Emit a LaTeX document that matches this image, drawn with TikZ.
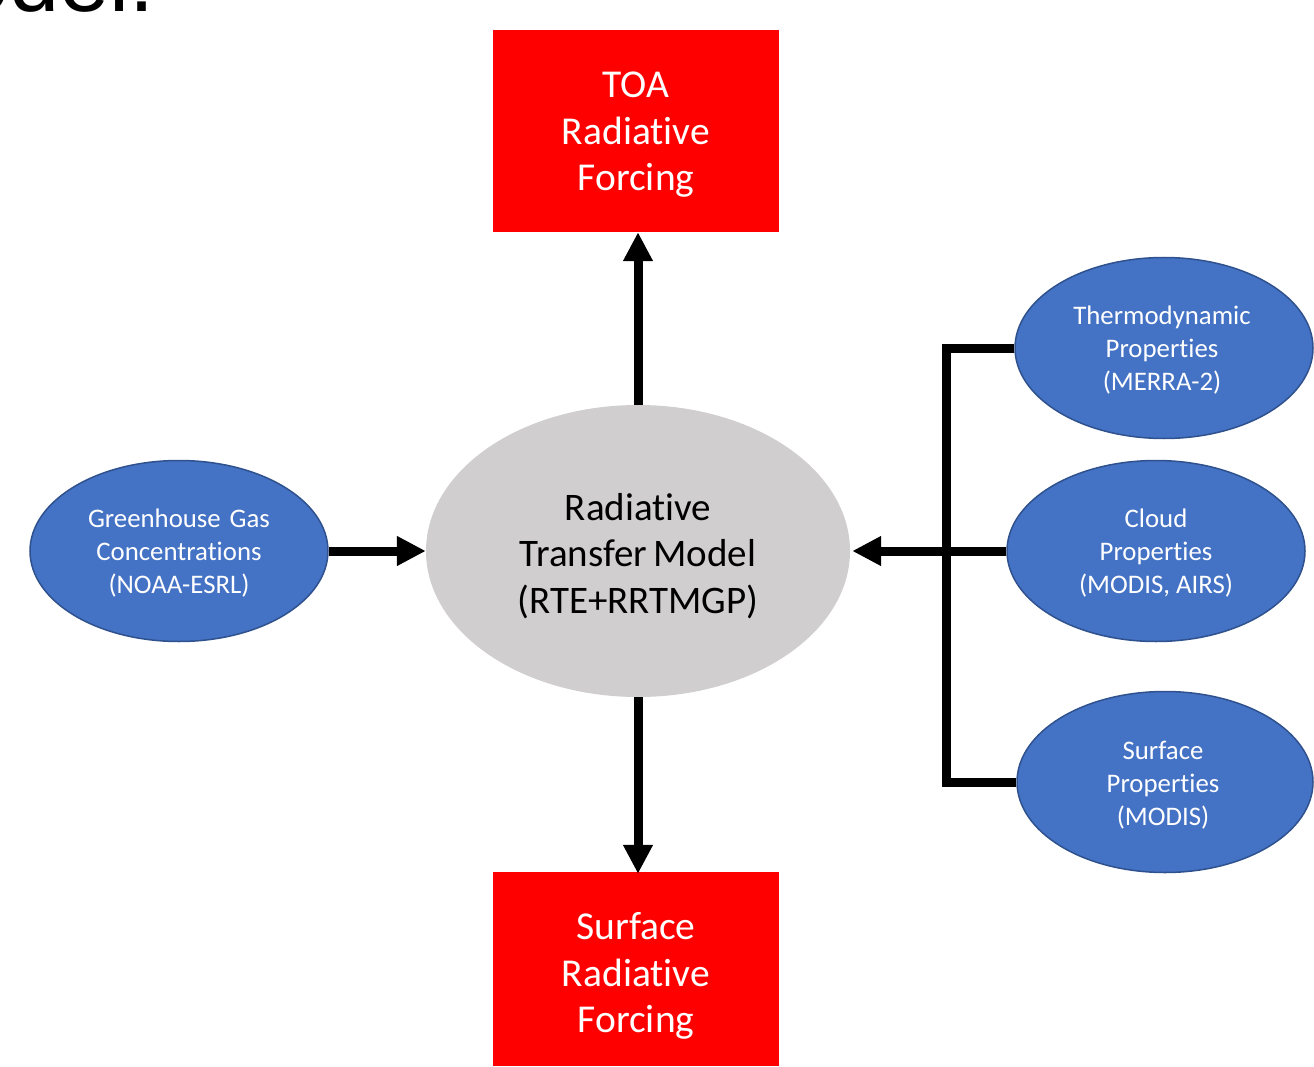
\documentclass[tikz,border=0pt]{standalone}
\usepackage{fontspec}
\setmainfont[Ligatures=NoCommon]{Carlito}
\newfontfamily\arialfont{Liberation Sans}
\usetikzlibrary{shapes.geometric,arrows.meta}
\definecolor{redbox}{HTML}{FF0000}
\definecolor{grayell}{HTML}{D0CECE}
\definecolor{blueell}{HTML}{4472C4}
\definecolor{blueedge}{HTML}{2F528F}
\tikzset{
  redbox/.style={draw=none, fill=redbox, minimum width=286pt, inner sep=0pt},
  bigtxt/.style={text=white, align=center, inner sep=0pt, font=\fontsize{39.5}{46.5}\selectfont},
  midtxt/.style={text=black, align=center, inner sep=0pt, font=\fontsize{39}{46.5}\selectfont},
  smalltxt/.style={text=white, align=center, inner sep=0pt, font=\fontsize{26.8}{33}\selectfont},
  centerell/.style={ellipse, fill=grayell, draw=none, minimum width=424pt, minimum height=292pt, inner sep=0pt},
  inell/.style={ellipse, fill=blueell, draw=blueedge, line width=1.5pt, minimum width=298pt, minimum height=181pt, inner sep=0pt},
  conn/.style={line width=9pt, line join=miter},
  arr/.style={conn, -{Triangle[length=29pt,width=28pt]}}
}
\begin{document}
\begin{tikzpicture}[x=1pt,y=-1pt]
\useasboundingbox (0,0) rectangle (1314,1067);
\begin{scope}
\clip (0,0) rectangle (1314,1067);
\node[anchor=base east, inner sep=0pt, font=\arialfont\fontsize{90}{90}\selectfont] (title) at (155,12) {odel.};
\end{scope}
\node[redbox, minimum height=202pt, label={[bigtxt, yshift=-4pt]center:{TOA\\Radiative\\Forcing}}] (toa) at (636,131) {};
\node[redbox, minimum height=194pt, label={[bigtxt, yshift=-7pt]center:{Surface\\Radiative\\Forcing}}] (srf) at (636,969) {};
\node[centerell, label={[midtxt, yshift=-5pt]center:{Radiative\\Transfer\,Model\\(RTE+RRTMGP)}}] (rtm) at (638,551) {};
\node[inell, label={[smalltxt, yshift=-2pt]center:{Greenhouse\,\,Gas\\Concentrations\\(NOAA-ESRL)}}] (ghg) at (179,551) {};
\node[inell, label={[smalltxt, yshift=-2pt, xshift=-2pt]center:{Thermodynamic\\Properties\\(MERRA-2)}}] (thermo) at (1164,348) {};
\node[inell, label={[smalltxt, yshift=-2pt]center:{Cloud\\Properties\\(MODIS, AIRS)}}] (cloud) at (1156,551) {};
\node[inell, minimum width=296pt, label={[smalltxt, yshift=-3pt, xshift=-2pt]center:{Surface\\Properties\\(MODIS)}}] (sfcp) at (1165,782) {};
\coordinate (bus) at (946,551);
\draw[arr] (rtm.north) -- (rtm.north |- toa.south);
\draw[arr] (rtm.south) -- ([yshift=-2pt]rtm.south |- srf.north);
\draw[arr] (ghg.east) -- (rtm.west);
\draw[conn] (thermo.west) -| (bus) |- (sfcp.west);
\draw[arr] (cloud.west) -- ([xshift=2pt]rtm.east);
\end{tikzpicture}
\end{document}
